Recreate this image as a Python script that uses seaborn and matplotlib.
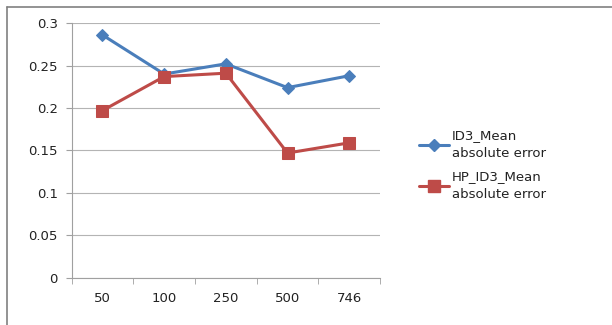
import pandas as pd
import matplotlib
matplotlib.use('Agg')
import matplotlib.pyplot as plt
from matplotlib.lines import Line2D
import seaborn as sns

# 데이터
sizes = ['50', '100', '250', '500', '746']
id3_mae = [0.286, 0.240, 0.252, 0.224, 0.238]
hp_id3_mae = [0.197, 0.237, 0.241, 0.147, 0.159]
label1 = 'ID3_Mean\nabsolute error'
label2 = 'HP_ID3_Mean\nabsolute error'

df = pd.DataFrame({'size': sizes, 'id3': id3_mae, 'hp': hp_id3_mae})

sns.set_style('white')
plt.rcParams['font.family'] = ['DejaVu Sans']

fig = plt.figure(figsize=(6.12, 3.25), dpi=100)
ax = fig.add_axes([0.117, 0.145, 0.504, 0.784])

blue = '#4A7EBB'
red = '#BE4B48'
sns.lineplot(data=df, x='size', y='id3', ax=ax, color=blue, lw=2.2,
             marker='D', markersize=6, markeredgecolor=blue, sort=False, legend=False)
sns.lineplot(data=df, x='size', y='hp', ax=ax, color=red, lw=2.2,
             marker='s', markersize=8.5, markeredgecolor=red, sort=False, legend=False)

ax.set_ylim(0, 0.3)
ax.set_xlim(-0.5, 4.5)
ax.set_yticks([0, 0.05, 0.1, 0.15, 0.2, 0.25, 0.3])
ax.set_yticklabels(['0', '0.05', '0.1', '0.15', '0.2', '0.25', '0.3'])
ax.set_xlabel('')
ax.set_ylabel('')
ax.yaxis.grid(True, color='#B4B4B4', lw=0.8)
ax.set_axisbelow(True)

for s in ['top', 'right']:
    ax.spines[s].set_visible(False)
for s in ['left', 'bottom']:
    ax.spines[s].set_color('#A0A0A0')
    ax.spines[s].set_linewidth(0.8)

ax.tick_params(axis='y', length=4, color='#A0A0A0', direction='out', left=True,
               labelsize=9.5, pad=6, labelcolor='#222222')
ax.tick_params(axis='x', length=0, labelsize=9.5, pad=10, labelcolor='#222222')
ax.set_xticks([-0.5, 0.5, 1.5, 2.5, 3.5, 4.5], minor=True)
ax.tick_params(axis='x', which='minor', length=4, color='#A0A0A0', bottom=True, direction='out')

handles = [Line2D([], [], color=blue, lw=2.2, marker='D', markersize=6),
           Line2D([], [], color=red, lw=2.2, marker='s', markersize=8.5)]
leg = fig.legend(handles, [label1, label2], loc='upper left', bbox_to_anchor=(0.665, 0.64),
                 frameon=False, fontsize=9.5, handlelength=2.3, handletextpad=0.2,
                 labelspacing=0.7)
for t in leg.get_texts():
    t.set_linespacing(1.55)
    t.set_color('#222222')

# 바깥 테두리 (위, 왼쪽)
fig.add_artist(Line2D([0.012, 1.0], [0.979, 0.979], color='#808080', lw=1.2))
fig.add_artist(Line2D([0.012, 0.012], [0.0, 0.979], color='#808080', lw=1.2))

fig.savefig('out.png', dpi=100)
